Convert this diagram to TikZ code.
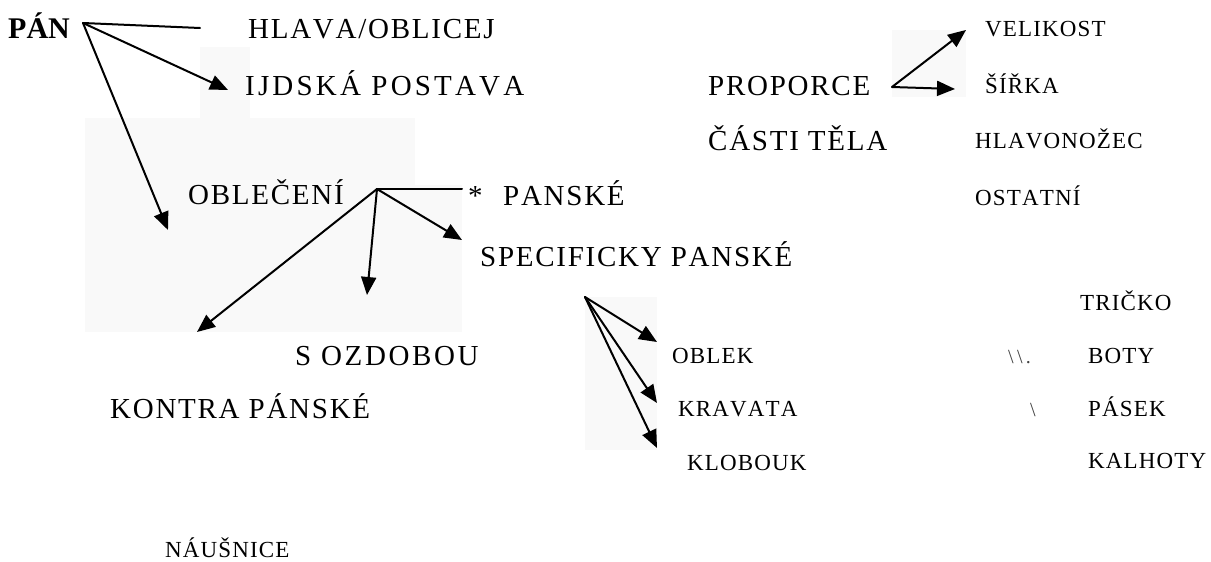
\documentclass[tikz,border=0pt]{standalone}
\usepackage{fontspec}
\setmainfont{Liberation Serif}
\newfontfamily\widefont{Liberation Serif}[LetterSpace=6,Kerning=Off]
\newfontfamily\smallfont{Liberation Serif}[LetterSpace=5,Kerning=Off]
\usetikzlibrary{arrows.meta}

\newcommand{\bigtxt}{\widefont\fontsize{29}{31}\selectfont}
\newcommand{\smalltxt}{\smallfont\fontsize{23}{25}\selectfont}

\tikzset{
  lbl/.style={inner sep=0pt, anchor=base west, font=\bigtxt},
  sml/.style={inner sep=0pt, anchor=base west, font=\smalltxt},
  conn/.style={line width=2pt, line cap=round},
  arr/.style={conn, -{Triangle[length=18pt,width=15pt]}},
  patch/.style={fill=gray!5, draw=none}
}

\begin{document}
\begin{tikzpicture}[x=1pt, y=-1pt]
  \useasboundingbox (0,0) rectangle (1211,562);

  % light scanned backgrounds behind some of the arrows
  \fill[patch] (200,47) rectangle (250,118);
  \fill[patch] (85,118) rectangle (415,332);
  \fill[patch] (415,185) rectangle (462,332);
  \fill[patch] (892,30) rectangle (966,97);
  \fill[patch] (585,297) rectangle (657,450);

  % main headings
  \node[lbl, font=\fontsize{30}{32}\selectfont\bfseries] (pan) at (8,38) {PÁN};
  \node[lbl] (hlava) at (248,38) {HLAVA/OBLICEJ};
  \node[lbl, font=\bigtxt\addfontfeature{LetterSpace=11}] (lidska) at (245,95) {IJDSKÁ POSTAVA};
  \node[lbl] (proporce) at (708,95) {PROPORCE};
  \node[lbl] (casti) at (708,150) {ČÁSTI TĚLA};
  \node[lbl] (obleceni) at (188,204) {OBLEČENÍ};
  \node[lbl] (star) at (468,205) {*};
  \node[lbl] (panske) at (503,205) {PANSKÉ};
  \node[lbl] (specif) at (480,266) {SPECIFICKY PANSKÉ};
  \node[lbl, font=\bigtxt\addfontfeature{LetterSpace=9}] (ozdobou) at (295,365) {S OZDOBOU};
  \node[lbl] (kontra) at (110,418) {KONTRA PÁNSKÉ};

  % smaller entries
  \node[sml] (velikost) at (985,36) {VELIKOST};
  \node[sml] (sirka) at (985,93) {ŠÍŘKA};
  \node[sml] (hlavonozec) at (975,148) {HLAVONOŽEC};
  \node[sml] (ostatni) at (975,205) {OSTATNÍ};
  \node[sml] (tricko) at (1080,310) {TRIČKO};
  \node[sml] (boty) at (1088,363) {BOTY};
  \node[sml] (pasek) at (1088,416) {PÁSEK};
  \node[sml] (kalhoty) at (1088,468) {KALHOTY};
  \node[sml] (oblek) at (672,363) {OBLEK};
  \node[sml] (kravata) at (678,416) {KRAVATA};
  \node[sml] (klobouk) at (687,470) {KLOBOUK};
  \node[sml] (nausnice) at (165,557) {NÁUŠNICE};
  \node[sml, text=black!75, font=\smallfont\fontsize{20}{22}\selectfont] (bsa) at (1008,363) {\textbackslash\,\textbackslash\,.};
  \node[sml, text=black!75, font=\smallfont\fontsize{20}{22}\selectfont] (bsb) at (1030,416) {\textbackslash};

  % branch points and arrow ends
  \coordinate (panO) at (83,23);
  \coordinate (hlavaE) at (200,28);
  \coordinate (lidT) at (228,90);
  \coordinate (oblT) at (168,230);
  \coordinate (obO) at (377,189);
  \coordinate (obH) at (462,189);
  \coordinate (specT) at (462,240);
  \coordinate (ozdT) at (367,295);
  \coordinate (kontT) at (197,332);
  \coordinate (propO) at (892,87);
  \coordinate (velT) at (966,30);
  \coordinate (sirT) at (955,89);
  \coordinate (grpO) at (585,297);
  \coordinate (oblkT) at (657,342);
  \coordinate (kravT) at (657,403);
  \coordinate (klobT) at (657,448);

  % PÁN branches
  \draw[conn] (panO) -- (hlavaE);
  \draw[arr] (panO) -- (lidT);
  \draw[arr] (panO) -- (oblT);

  % OBLEČENÍ branches
  \draw[conn] (obO) -- (obH);
  \draw[arr] (obO) -- (specT);
  \draw[arr] (obO) -- (ozdT);
  \draw[arr] (obO) -- (kontT);

  % PROPORCE branches
  \draw[arr] (propO) -- (velT);
  \draw[arr] (propO) -- (sirT);

  % clothing items
  \draw[arr] (grpO) -- (oblkT);
  \draw[arr] (grpO) -- (kravT);
  \draw[arr] (grpO) -- (klobT);
\end{tikzpicture}
\end{document}
